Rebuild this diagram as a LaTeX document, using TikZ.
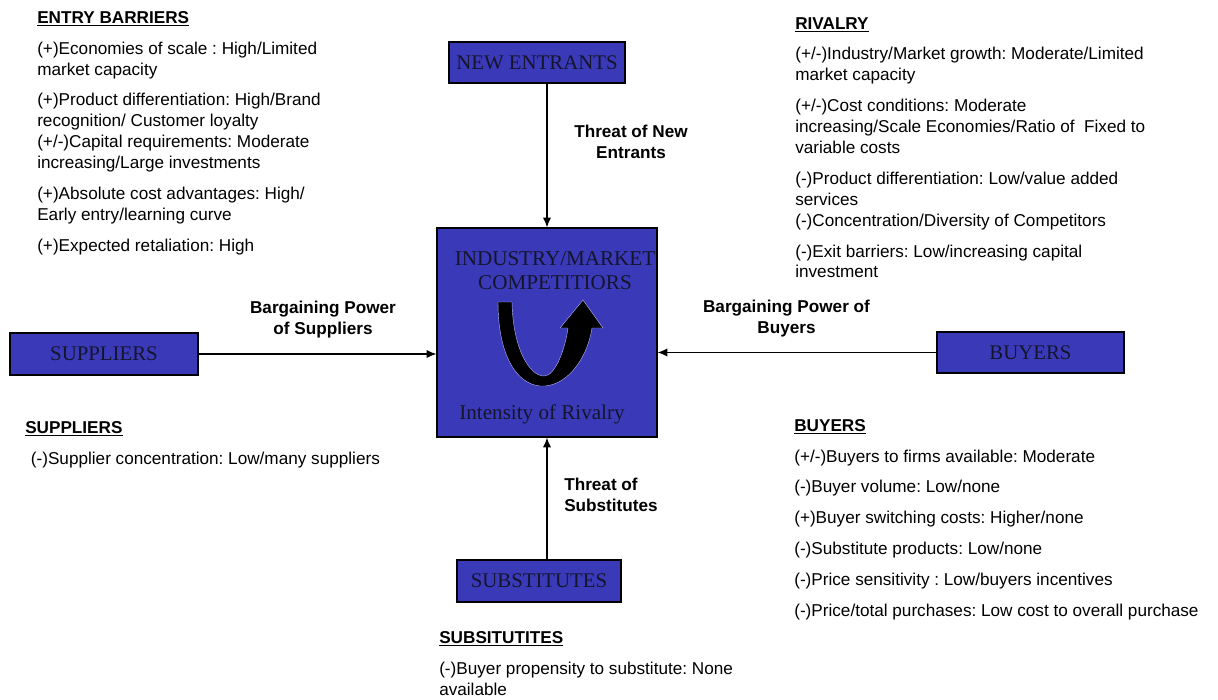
\documentclass[tikz,border=0pt]{standalone}
\usepackage{fontspec}
\setmainfont{Liberation Sans}
\newfontfamily\boxfont{Liberation Serif}
\usetikzlibrary{positioning,arrows.meta}
\frenchspacing
\definecolor{boxblue}{RGB}{58,58,185}
\definecolor{boxtext}{RGB}{20,20,45}
\tikzset{
  force/.style={draw=black,line width=0.8pt,fill=boxblue,inner sep=0pt,text=boxtext,
    font=\boxfont\fontsize{14.8}{16}\selectfont},
  notes/.style={anchor=north west,align=left,inner sep=0pt,font=\fontsize{12.2}{14.9}\selectfont},
  label/.style={align=center,inner sep=0pt,font=\bfseries\fontsize{12.2}{14.9}\selectfont},
  push/.style={-{Latex[length=7pt,width=6pt]},line width=1pt}
}
\newcommand{\heading}[1]{\underline{\textbf{#1}}}
\begin{document}
\begin{tikzpicture}[x=0.025cm,y=-0.025cm]
\useasboundingbox (0,0) rectangle (1218,699);

\node[force,minimum width=5.5cm,minimum height=5.225cm] (market) at (547,332.5) {};
\node[force,minimum width=4.4cm,minimum height=1.025cm] (entrants) at (537,62.5) {NEW ENTRANTS};
\node[force,minimum width=4.7cm,minimum height=1.05cm] (suppliers) at (104,354) {SUPPLIERS};
\node[force,minimum width=4.675cm,minimum height=1.025cm] (buyers) at (1030.5,352.5) {BUYERS};
\node[force,minimum width=4.1cm,minimum height=1.05cm] (substitutes) at (539,581) {SUBSTITUTES};

\node[text=boxtext,font=\boxfont\fontsize{15}{17}\selectfont,align=center,inner sep=0pt]
  (title) at (555,270.5) {INDUSTRY/MARKET\\COMPETITIORS};
\node[text=boxtext,font=\boxfont\fontsize{15}{17}\selectfont,inner sep=0pt]
  (intensity) at (542,414) {Intensity of Rivalry};
\fill[black,draw=blue!30!white,line width=0.3pt]
  (498,302) .. controls (498,360) and (520,388) .. (545,386)
  .. controls (570,384) and (588,355) .. (592,328) -- (603,328) -- (583,300)
  -- (560,328) -- (568,328) .. controls (565,350) and (555,376) .. (544,376)
  .. controls (530,376) and (513,350) .. (512,302) -- cycle;

\draw[push] (market.north |- entrants.south) -- (market.north);
\draw[push] (suppliers.east) -- (suppliers.east -| market.west);
\draw[push] (buyers.west) -- (buyers.west -| market.east);
\draw[push] (market.south |- substitutes.north) -- (market.south);

\node[label] (lnew) at (631,142) {Threat of New\\Entrants};
\node[label] (lsup) at (323,320) {Bargaining Power\\of Suppliers};
\node[label] (lbuy) at (786.5,318.5) {Bargaining Power of\\Buyers};
\node[label,align=left,anchor=west] (lsub) at (564,494.5) {Threat of\\Substitutes};

\node[notes] (barriers) at (37,11) {\heading{ENTRY BARRIERS}\\[7pt]
(+)Economies of scale : High/Limited\\market capacity\\[7pt]
(+)Product differentiation: High/Brand\\recognition/ Customer loyalty\\
(+/-)Capital requirements: Moderate\\increasing/Large investments\\[7pt]
(+)Absolute cost advantages: High/\\Early entry/learning curve\\[7pt]
(+)Expected retaliation: High};

\node[notes] (rivalry) at (795,17) {\heading{RIVALRY}\\[7pt]
(+/-)Industry/Market growth: Moderate/Limited\\market capacity\\[7pt]
(+/-)Cost conditions: Moderate\\increasing/Scale Economies/Ratio of\ \ Fixed to\\variable costs\\[7pt]
(-)Product differentiation: Low/value added\\services\\
(-)Concentration/Diversity of Competitors\\[7pt]
(-)Exit barriers: Low/increasing capital\\investment};

\node[notes] (supnotes) at (25,421) {\heading{SUPPLIERS}\\[7pt]
\hspace*{4pt}(-)Supplier concentration: Low/many suppliers};

\node[notes] (buynotes) at (794,419) {\heading{BUYERS}\\[7pt]
(+/-)Buyers to firms available: Moderate\\[7pt]
(-)Buyer volume: Low/none\\[7pt]
(+)Buyer switching costs: Higher/none\\[7pt]
(-)Substitute products: Low/none\\[7pt]
(-)Price sensitivity : Low/buyers incentives\\[7pt]
(-)Price/total purchases: Low cost to overall purchase};

\node[notes] (subnotes) at (439,631) {\heading{SUBSITUTITES}\\[7pt]
(-)Buyer propensity to substitute: None\\available};
\end{tikzpicture}
\end{document}
